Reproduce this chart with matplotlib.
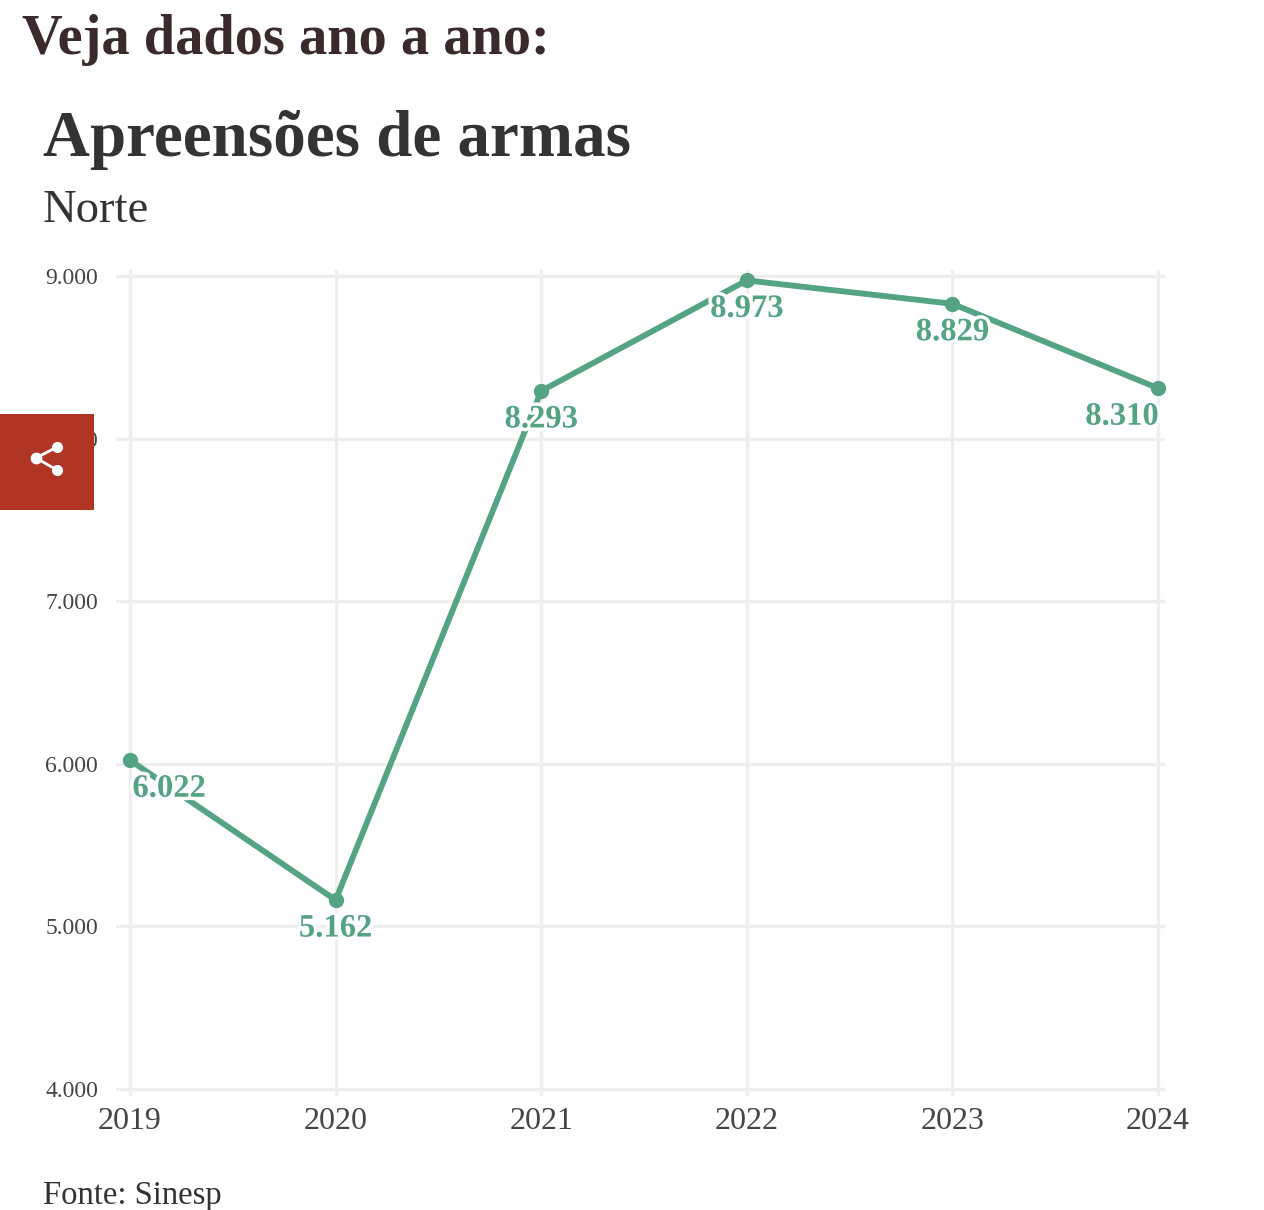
import matplotlib
matplotlib.use("Agg")
import matplotlib.pyplot as plt
import matplotlib.patches as patches
import matplotlib.patheffects as pe

years = [2019, 2020, 2021, 2022, 2023, 2024]
values = [6022, 5162, 8293, 8973, 8829, 8310]
value_labels = ["6.022", "5.162", "8.293", "8.973", "8.829", "8.310"]
y_ticks = [4000, 5000, 6000, 7000, 8000, 9000]
y_tick_labels = ["4.000", "5.000", "6.000", "7.000", "8.000", "9.000"]

W = 1264
H = 1210
GREEN = "#54a383"
GRID = "#eeeeee"
SERIF = ["Liberation Serif", "DejaVu Serif"]
DARK = "#333333"

plt.rcParams['font.family'] = SERIF

fig = plt.figure(figsize=(W/100, H/100), dpi=100)
fig.patch.set_facecolor("white")

# axes box in pixels, grid lines stick out a bit past the first/last points
left, right, top, bottom = 116, 1165, 270, 1096
ax = fig.add_axes([left/W, 1-bottom/H, (right-left)/W, (bottom-top)/H])
ax.set_xlim(2019-14/205.6, 2024+7/205.6)
ax.set_ylim(4000-7/0.1626, 9000+6/0.1626)
for s in ax.spines.values():
    s.set_visible(False)

ax.set_xticks(years)
ax.set_xticklabels([str(y) for y in years], fontsize=23, color="#444444")
ax.set_yticks(y_ticks)
ax.set_yticklabels(y_tick_labels, fontsize=17, color="#444444")
ax.tick_params(axis='both', length=0)
ax.tick_params(axis='x', pad=8)
ax.tick_params(axis='y', pad=13)
ax.grid(True, color=GRID, linewidth=2.4)
ax.set_axisbelow(True)

ax.plot(years, values, color=GREEN, linewidth=4.2, marker='o', markersize=10, clip_on=False, zorder=3)

offsets = [(39, -28), (0, -28), (0, -28), (0, -28), (0, -28), (-36, -28)]
for x, v, lab, off in zip(years, values, value_labels, offsets):
    t = ax.annotate(lab, (x, v), xytext=off, textcoords='offset pixels', ha='center', va='center',
                    fontsize=23.5, fontweight='bold', color=GREEN, zorder=4)
    t.set_path_effects([pe.withStroke(linewidth=5, foreground='white')])

fig.text(22/W, 1-40/H, "Veja dados ano a ano:", fontsize=40.6, fontweight='bold', color="#3a2a2c", va='center')
fig.text(43/W, 1-140/H, "Apreensões de armas", fontsize=46.8, fontweight='bold', color=DARK, va='center')
fig.text(43/W, 1-211/H, "Norte", fontsize=33.6, color=DARK, va='center')
fig.text(43/W, 1-1196/H, "Fonte: Sinesp", fontsize=23.5, color=DARK, va='center')

# share button, overlay in pixel coordinates
ov = fig.add_axes([0, 0, 1, 1], zorder=10)
ov.set_xlim(0, W)
ov.set_ylim(H, 0)
ov.axis('off')
ov.patch.set_alpha(0)
ov.add_patch(patches.Rectangle((0, 414), 94, 96, fc="#b03525", ec='none'))
ov.plot([57, 36, 57], [447, 458, 470], color="white", linewidth=2)
ov.plot([57], [447], 'o', color="white", markersize=7)
ov.plot([36], [458], 'o', color="white", markersize=7.5)
ov.plot([57], [470], 'o', color="white", markersize=7)

fig.savefig("out.png", dpi=100)
